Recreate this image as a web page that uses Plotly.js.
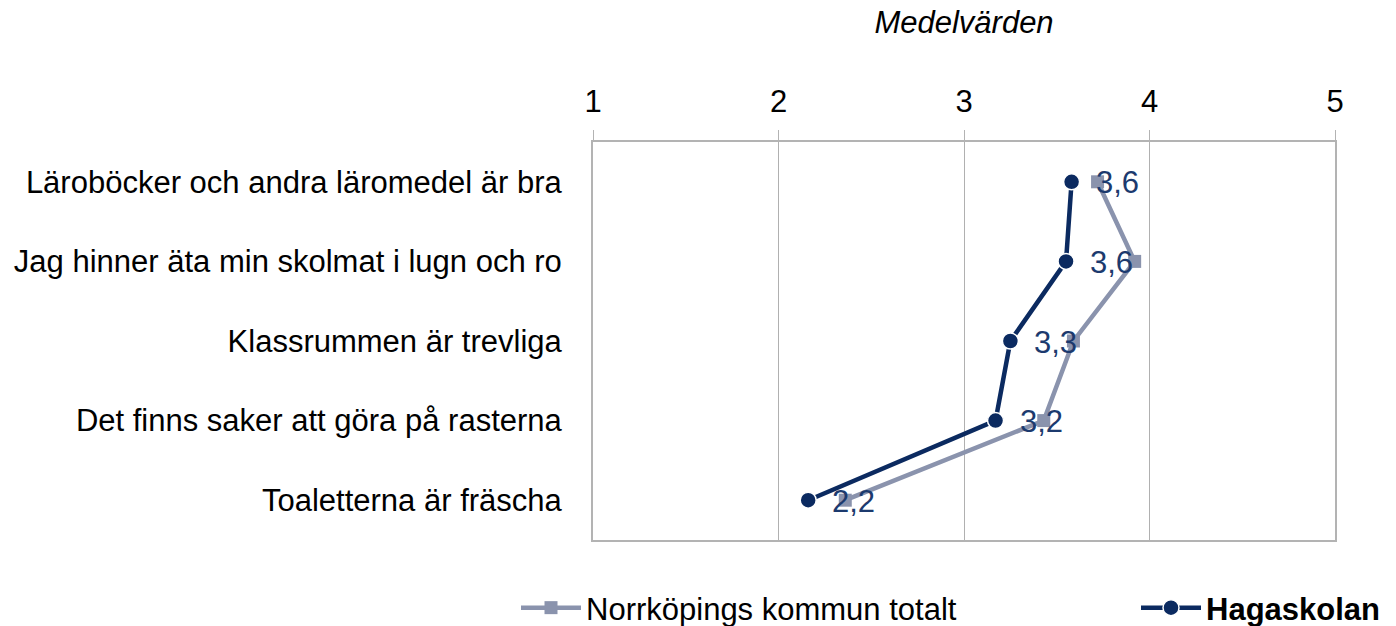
<!DOCTYPE html>
<html>
<head>
<meta charset="utf-8">
<script src="https://cdn.plot.ly/plotly-3.0.1.min.js"></script>
<style>html,body{margin:0;padding:0;background:#fff}#chart{width:1396px;height:626px}</style>
</head>
<body>
<div id="chart"></div>
<script>
const categories = [
  "Läroböcker och andra läromedel är bra",
  "Jag hinner äta min skolmat i lugn och ro",
  "Klassrummen är trevliga",
  "Det finns saker att göra på rasterna",
  "Toaletterna är fräscha"
];
const norrkopingValues = [3.72, 3.92, 3.59, 3.43, 2.36];
const hagaskolanValues = [3.58, 3.55, 3.25, 3.17, 2.16];
const hagaskolanLabels = ["3,6", "3,6", "3,3", "3,2", "2,2"];
const xTickValues = [1, 2, 3, 4, 5];
const titleText = "Medelvärden";
const seriesNames = ["Norrköpings kommun totalt", "<b>Hagaskolan</b>"];

const FONT = '"Liberation Sans", Arial, sans-serif';
const FS = 31;
const NAVY = '#0b2a60';
const GRAY = '#8a93ad';

const traces = [
  {
    type: 'scatter', mode: 'lines+markers', name: seriesNames[0],
    x: norrkopingValues, y: categories,
    line: {color: GRAY, width: 4.5},
    marker: {symbol: 'square', size: 13, color: GRAY},
    hoverinfo: 'skip', legend: 'legend'
  },
  {
    type: 'scatter', mode: 'lines+markers', name: seriesNames[1],
    x: hagaskolanValues, y: categories,
    line: {color: NAVY, width: 4.5},
    marker: {symbol: 'circle', size: 16, color: NAVY, line: {color: '#ffffff', width: 1.5}},
    hoverinfo: 'skip', legend: 'legend2'
  }
];

const annotations = hagaskolanValues.map((v, i) => ({
  x: v, y: categories[i], xref: 'x', yref: 'y',
  text: hagaskolanLabels[i], showarrow: false,
  xanchor: 'left', yanchor: 'middle', xshift: 22, yshift: -1,
  font: {family: FONT, size: FS, color: '#1c3a6e'}
}));

const legendBase = {
  orientation: 'h', xref: 'container', yref: 'container',
  xanchor: 'left', yanchor: 'middle', y: 1 - 608/626,
  font: {family: FONT, size: FS, color: '#000000'},
  itemwidth: 60, bgcolor: 'rgba(0,0,0,0)', borderwidth: 0
};

const layout = {
  width: 1396, height: 626,
  margin: {l: 593, r: 61, t: 142, b: 86, autoexpand: false},
  paper_bgcolor: '#ffffff', plot_bgcolor: '#ffffff',
  font: {family: FONT, size: FS, color: '#000000'},
  title: {
    text: '<i>' + titleText + '</i>',
    xref: 'paper', x: 0.5, xanchor: 'center',
    yref: 'container', y: 1 - 22/626, yanchor: 'middle',
    font: {family: FONT, size: FS, color: '#000000'}
  },
  xaxis: {
    side: 'top', range: [1, 5], tickvals: xTickValues,
    showgrid: true, gridcolor: '#b0b0b0', gridwidth: 1,
    showline: true, linecolor: '#b3b3b3', linewidth: 2, mirror: true,
    ticks: 'outside', ticklen: 10, tickcolor: '#b3b3b3', tickwidth: 1,
    ticklabelstandoff: 6,
    zeroline: false, fixedrange: true, automargin: false,
    tickfont: {family: FONT, size: FS, color: '#000000'}
  },
  yaxis: {
    type: 'category', categoryorder: 'array', categoryarray: categories,
    range: [4.5, -0.5],
    showgrid: false, showline: true, linecolor: '#b3b3b3', linewidth: 2, mirror: true,
    ticks: '', ticklabelstandoff: 23, zeroline: false, fixedrange: true, automargin: false,
    tickfont: {family: FONT, size: FS, color: '#000000'}
  },
  showlegend: true,
  legend: Object.assign({}, legendBase, {x: 516/1396}),
  legend2: Object.assign({}, legendBase, {x: 1136/1396}),
  annotations: annotations
};

Plotly.newPlot('chart', traces, layout, {staticPlot: true, displayModeBar: false});
</script>
</body>
</html>
